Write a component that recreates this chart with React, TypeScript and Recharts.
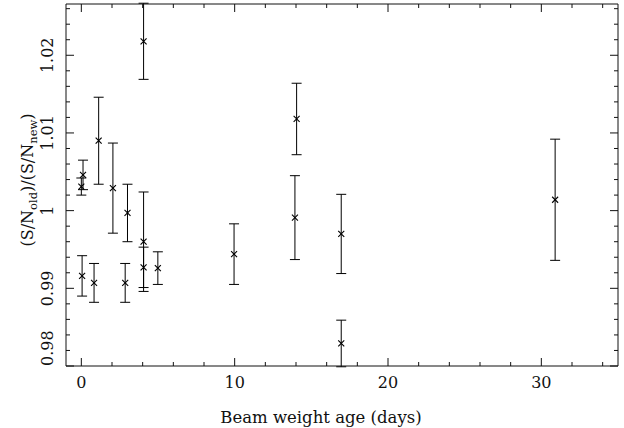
import { ScatterChart, Scatter, XAxis, YAxis, ErrorBar } from 'recharts';

// beam weight age (days), S/N ratio old/new, 1-sigma error
const ages = [0, 0.11, 1.13, 2.06, 3.01, 4.06, 4.06, 4.06, 0.05, 0.83, 2.86, 4.99, 9.96, 14.04, 13.93, 16.95, 16.95, 30.9];
const ratios = [1.0031, 1.0046, 1.009, 1.0029, 0.9997, 0.996, 1.0218, 0.9927, 0.9916, 0.9907, 0.9907, 0.9926, 0.9944, 1.0118, 0.9991, 0.997, 0.9829, 1.0014];
const errors = [0.0011, 0.0019, 0.0056, 0.0058, 0.0037, 0.0064, 0.0049, 0.0026, 0.0026, 0.0025, 0.0025, 0.0021, 0.0039, 0.0046, 0.0054, 0.0051, 0.003, 0.0078];

const xDomain = [-1, 35];
const yDomain = [0.98, 1.0266];
const xMajorTicks = [0, 10, 20, 30];
const xTickLabels = ['0', '10', '20', '30'];
const yMajorTicks = [0.98, 0.99, 1.0, 1.01, 1.02];
const yTickLabels = ['0.98', '0.99', '1', '1.01', '1.02'];

const xTicks: number[] = [];
for (let v = 0; v <= 34; v += 2) xTicks.push(v);
const yTicks: number[] = [];
for (let i = 0; i <= 23; i++) yTicks.push(Number((0.98 + i * 0.002).toFixed(3)));

const data = ages.map((age, i) => ({ age, ratio: ratios[i], err: errors[i] }));

const FONT = 'DejaVu Serif';
const INK = '#111';
const near = (a: number, b: number) => Math.abs(a - b) < 1e-6;
const xLabel = (v: number) => {
  const i = xMajorTicks.findIndex((t) => near(t, v));
  return i >= 0 ? xTickLabels[i] : null;
};
const yLabel = (v: number) => {
  const i = yMajorTicks.findIndex((t) => near(t, v));
  return i >= 0 ? yTickLabels[i] : null;
};

function BottomTick({ x, y, payload }: any) {
  const lab = xLabel(payload.value);
  return (
    <g>
      <line x1={x} y1={y} x2={x} y2={y - (lab ? 8 : 4)} stroke={INK} />
      {lab && (
        <text x={x} y={y + 22} textAnchor="middle" fontFamily={FONT} fontSize={16} fill={INK}>
          {lab}
        </text>
      )}
    </g>
  );
}

function TopTick({ x, y, payload }: any) {
  const lab = xLabel(payload.value);
  return <line x1={x} y1={y} x2={x} y2={y + (lab ? 8 : 4)} stroke={INK} />;
}

function LeftTick({ x, y, payload }: any) {
  const lab = yLabel(payload.value);
  const bottom = near(payload.value, yDomain[0]);
  return (
    <g>
      <line x1={x} y1={y} x2={x + (lab ? 8 : 4)} y2={y} stroke={INK} />
      {lab && (
        <text
          transform={`translate(${x - 19}, ${y}) rotate(-90)`}
          textAnchor={bottom ? 'start' : 'middle'}
          dy="0.35em"
          fontFamily={FONT}
          fontSize={16}
          fill={INK}
        >
          {lab}
        </text>
      )}
    </g>
  );
}

function RightTick({ x, y, payload }: any) {
  const lab = yLabel(payload.value);
  return <line x1={x} y1={y} x2={x - (lab ? 8 : 4)} y2={y} stroke={INK} />;
}

function Cross({ cx, cy }: any) {
  const s = 3;
  return (
    <g stroke="#000" strokeWidth={1.1}>
      <line x1={cx - s} y1={cy - s} x2={cx + s} y2={cy + s} />
      <line x1={cx - s} y1={cy + s} x2={cx + s} y2={cy - s} />
    </g>
  );
}

const Nothing = () => <g />;

function XTitle({ viewBox }: any) {
  const { x, y, width } = viewBox;
  return (
    <text x={x + width / 2 - 21} y={y + 57} textAnchor="middle" fontFamily={FONT} fontSize={16.5} fill={INK}>
      Beam weight age (days)
    </text>
  );
}

function YTitle({ viewBox }: any) {
  const { x, y, height } = viewBox;
  return (
    <text
      transform={`translate(${x + 27}, ${y + height / 2 - 5}) rotate(-90)`}
      textAnchor="middle"
      dy="0.35em"
      fontFamily={FONT}
      fontSize={16}
      fill={INK}
    >
      <tspan>(S/N</tspan>
      <tspan fontSize={11.5} dy={4}>old</tspan>
      <tspan dy={-4}>)/(S/N</tspan>
      <tspan fontSize={11.5} dy={4}>new</tspan>
      <tspan dy={-4}>)</tspan>
    </text>
  );
}

export default function App() {
  return (
    <div style={{ position: 'absolute', left: 0, top: 0, width: 624, height: 428, background: '#fff' }}>
      <ScatterChart width={624} height={428} margin={{ top: 3, right: 5, bottom: 0, left: 0 }}>
        <XAxis
          xAxisId="bottom"
          type="number"
          dataKey="age"
          domain={xDomain}
          ticks={xTicks}
          interval={0}
          allowDataOverflow
          height={62}
          tickSize={0}
          tickMargin={0}
          tickLine={false}
          axisLine={{ stroke: INK }}
          tick={<BottomTick />}
          label={<XTitle />}
        />
        <XAxis
          xAxisId="top"
          orientation="top"
          type="number"
          dataKey="age"
          domain={xDomain}
          ticks={xTicks}
          interval={0}
          allowDataOverflow
          height={1}
          tickSize={0}
          tickMargin={0}
          tickLine={false}
          axisLine={{ stroke: INK }}
          tick={<TopTick />}
        />
        <YAxis
          yAxisId="left"
          type="number"
          dataKey="ratio"
          domain={yDomain}
          ticks={yTicks}
          interval={0}
          allowDataOverflow
          width={66}
          tickSize={0}
          tickMargin={0}
          tickLine={false}
          axisLine={{ stroke: INK }}
          tick={<LeftTick />}
          label={<YTitle />}
        />
        <YAxis
          yAxisId="right"
          orientation="right"
          type="number"
          dataKey="ratio"
          domain={yDomain}
          ticks={yTicks}
          interval={0}
          allowDataOverflow
          width={1}
          tickSize={0}
          tickMargin={0}
          tickLine={false}
          axisLine={{ stroke: INK }}
          tick={<RightTick />}
        />
        <Scatter
          data={data}
          xAxisId="top"
          yAxisId="right"
          shape={<Nothing />}
          isAnimationActive={false}
        />
        <Scatter
          data={data}
          xAxisId="bottom"
          yAxisId="left"
          shape={<Cross />}
          isAnimationActive={false}
        >
          <ErrorBar dataKey="err" direction="y" width={5} stroke="#000" strokeWidth={1} isAnimationActive={false} />
        </Scatter>
      </ScatterChart>
    </div>
  );
}
